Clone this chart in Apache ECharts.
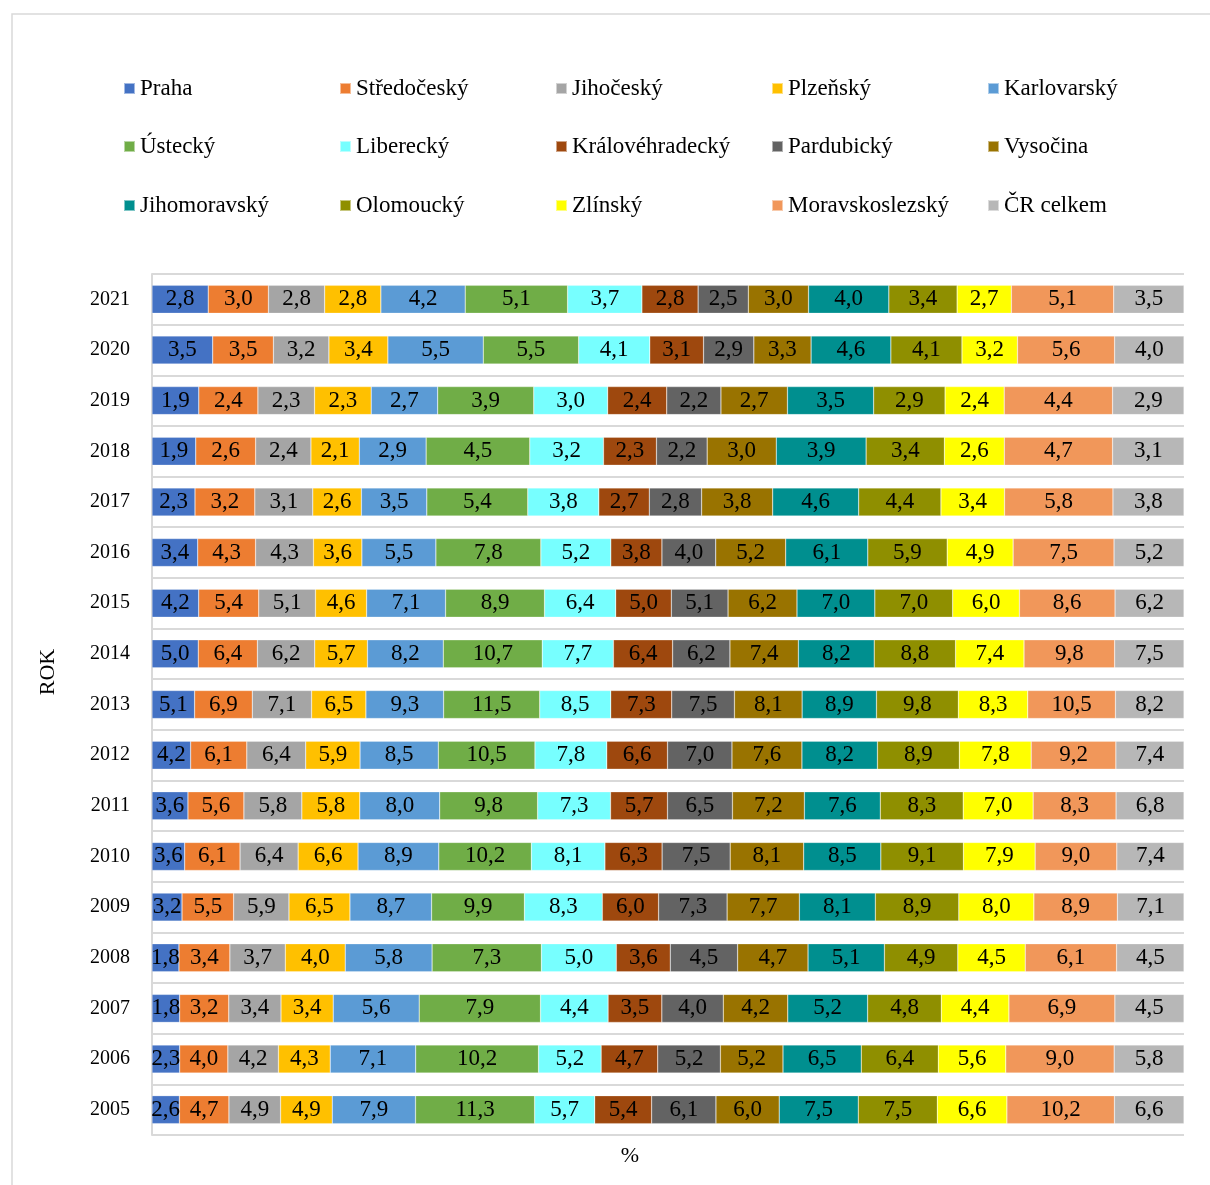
<!DOCTYPE html>
<html>
<head>
<meta charset="utf-8">
<script src="https://cdn.jsdelivr.net/npm/echarts@6/dist/echarts.min.js"></script>
<style>
  html, body { margin: 0; padding: 0; background: #fff; }
  #chart { width: 1210px; height: 1185px; }
</style>
</head>
<body>
<div id="chart"></div>
<script>
// roky odshora dolů
const years = ['2021', '2020', '2019', '2018', '2017', '2016', '2015', '2014', '2013', '2012', '2011', '2010', '2009', '2008', '2007', '2006', '2005']

const regions = ['Praha', 'Středočeský', 'Jihočeský', 'Plzeňský', 'Karlovarský', 'Ústecký', 'Liberecký', 'Královéhradecký', 'Pardubický', 'Vysočina', 'Jihomoravský', 'Olomoucký', 'Zlínský', 'Moravskoslezský', 'ČR celkem']

const praha = [2.8, 3.5, 1.9, 1.9, 2.3, 3.4, 4.2, 5.0, 5.1, 4.2, 3.6, 3.6, 3.2, 1.8, 1.8, 2.3, 2.6]
const stredocesky = [3.0, 3.5, 2.4, 2.6, 3.2, 4.3, 5.4, 6.4, 6.9, 6.1, 5.6, 6.1, 5.5, 3.4, 3.2, 4.0, 4.7]
const jihocesky = [2.8, 3.2, 2.3, 2.4, 3.1, 4.3, 5.1, 6.2, 7.1, 6.4, 5.8, 6.4, 5.9, 3.7, 3.4, 4.2, 4.9]
const plzensky = [2.8, 3.4, 2.3, 2.1, 2.6, 3.6, 4.6, 5.7, 6.5, 5.9, 5.8, 6.6, 6.5, 4.0, 3.4, 4.3, 4.9]
const karlovarsky = [4.2, 5.5, 2.7, 2.9, 3.5, 5.5, 7.1, 8.2, 9.3, 8.5, 8.0, 8.9, 8.7, 5.8, 5.6, 7.1, 7.9]
const ustecky = [5.1, 5.5, 3.9, 4.5, 5.4, 7.8, 8.9, 10.7, 11.5, 10.5, 9.8, 10.2, 9.9, 7.3, 7.9, 10.2, 11.3]
const liberecky = [3.7, 4.1, 3.0, 3.2, 3.8, 5.2, 6.4, 7.7, 8.5, 7.8, 7.3, 8.1, 8.3, 5.0, 4.4, 5.2, 5.7]
const kralovehradecky = [2.8, 3.1, 2.4, 2.3, 2.7, 3.8, 5.0, 6.4, 7.3, 6.6, 5.7, 6.3, 6.0, 3.6, 3.5, 4.7, 5.4]
const pardubicky = [2.5, 2.9, 2.2, 2.2, 2.8, 4.0, 5.1, 6.2, 7.5, 7.0, 6.5, 7.5, 7.3, 4.5, 4.0, 5.2, 6.1]
const vysocina = [3.0, 3.3, 2.7, 3.0, 3.8, 5.2, 6.2, 7.4, 8.1, 7.6, 7.2, 8.1, 7.7, 4.7, 4.2, 5.2, 6.0]
const jihomoravsky = [4.0, 4.6, 3.5, 3.9, 4.6, 6.1, 7.0, 8.2, 8.9, 8.2, 7.6, 8.5, 8.1, 5.1, 5.2, 6.5, 7.5]
const olomoucky = [3.4, 4.1, 2.9, 3.4, 4.4, 5.9, 7.0, 8.8, 9.8, 8.9, 8.3, 9.1, 8.9, 4.9, 4.8, 6.4, 7.5]
const zlinsky = [2.7, 3.2, 2.4, 2.6, 3.4, 4.9, 6.0, 7.4, 8.3, 7.8, 7.0, 7.9, 8.0, 4.5, 4.4, 5.6, 6.6]
const moravskoslezsky = [5.1, 5.6, 4.4, 4.7, 5.8, 7.5, 8.6, 9.8, 10.5, 9.2, 8.3, 9.0, 8.9, 6.1, 6.9, 9.0, 10.2]
const crCelkem = [3.5, 4.0, 2.9, 3.1, 3.8, 5.2, 6.2, 7.5, 8.2, 7.4, 6.8, 7.4, 7.1, 4.5, 4.5, 5.8, 6.6]

const values = [praha, stredocesky, jihocesky, plzensky, karlovarsky, ustecky, liberecky, kralovehradecky, pardubicky, vysocina, jihomoravsky, olomoucky, zlinsky, moravskoslezsky, crCelkem]

const colors = ['#4472C4', '#ED7D31', '#A5A5A5', '#FFC000', '#5B9BD5', '#70AD47', '#77FFFF', '#9E480E', '#636363', '#997300', '#008F8F', '#8F8F00', '#FFFF00', '#F1975A', '#B7B7B7']

const font = '"Liberation Serif", "Times New Roman", serif'

// součet za rok -> 100 %
const totals = years.map((y, j) => values.reduce((s, arr) => s + arr[j], 0))

const series = regions.map((name, i) => ({
  name: name,
  type: 'bar',
  stack: 'all',
  barWidth: 28,
  itemStyle: { color: colors[i], borderColor: 'rgba(255,255,255,0.5)', borderWidth: 0.5 },
  label: {
    show: true,
    position: 'inside',
    color: '#000',
    fontFamily: font,
    fontSize: 23,
    formatter: p => values[i][p.dataIndex].toFixed(1).replace('.', ',')
  },
  data: values[i].map((v, j) => v / totals[j] * 100)
}))

// legenda 5 sloupců x 3 řádky, každá položka zvlášť
const legends = regions.map((name, i) => ({
  left: 123 + (i % 5) * 216,
  top: [77, 135, 194][Math.floor(i / 5)],
  padding: 0,
  itemWidth: 11,
  itemHeight: 11,
  itemGap: 0,
  icon: 'rect',
  data: [name],
  textStyle: { fontFamily: font, fontSize: 23, color: '#000' }
}))

const myChart = echarts.init(document.getElementById('chart'))
myChart.setOption({
  animation: false,
  color: colors,
  grid: { left: 152, right: 26, top: 274, bottom: 50 },
  legend: legends,
  xAxis: {
    type: 'value',
    min: 0,
    max: 100,
    show: false
  },
  yAxis: {
    type: 'category',
    data: years,
    inverse: true,
    axisLine: { show: true, lineStyle: { color: '#D9D9D9', width: 2 } },
    axisTick: { show: false },
    splitLine: { show: true, lineStyle: { color: '#D9D9D9', width: 2 } },
    axisLabel: { color: '#000', fontFamily: font, fontSize: 20, margin: 22 }
  },
  graphic: [
    {
      type: 'rect',
      shape: { x: 12, y: 14, width: 1220, height: 1200 },
      style: { fill: 'none', stroke: '#D9D9D9', lineWidth: 1.5 },
      z: -1
    },
    {
      type: 'text',
      x: 48,
      y: 672,
      rotation: Math.PI / 2,
      style: { text: 'ROK', fontFamily: font, fontSize: 22, fill: '#000', textAlign: 'center', textVerticalAlign: 'middle' }
    },
    {
      type: 'text',
      x: 630,
      y: 1156,
      style: { text: '%', fontFamily: font, fontSize: 22, fill: '#000', textAlign: 'center', textVerticalAlign: 'middle' }
    }
  ],
  series: series
})
</script>
</body>
</html>
